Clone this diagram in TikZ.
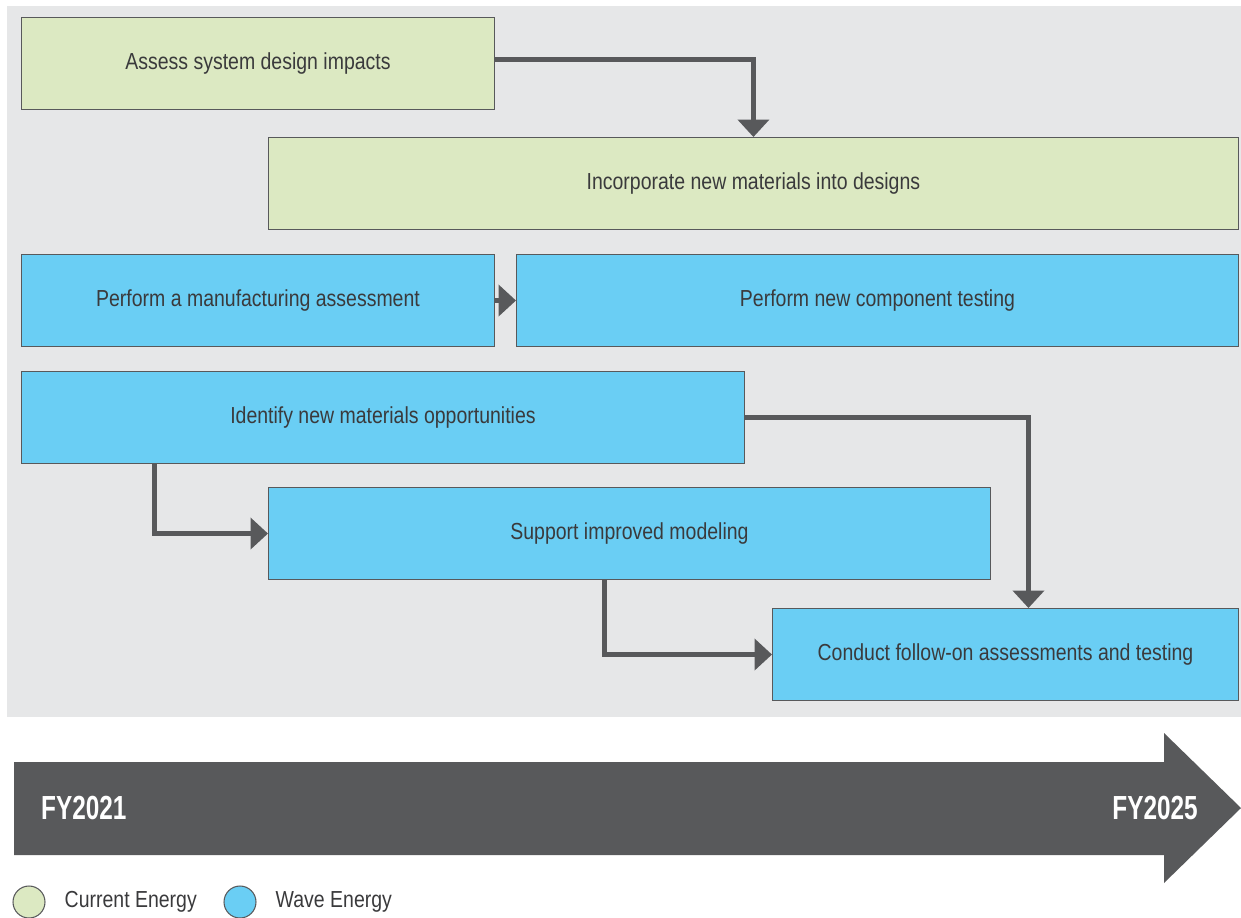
\documentclass[tikz,border=0pt]{standalone}
\usepackage{fontspec}
\setmainfont{Liberation Sans}[FakeStretch=0.84]
\newfontfamily\yearfont{Liberation Sans}[FakeStretch=0.73]
\usepackage{tikz}
\usetikzlibrary{arrows.meta, positioning}
\usepackage{xcolor}
\definecolor{bggray}{HTML}{E6E7E8}
\definecolor{currentgreen}{HTML}{DCE9C2}
\definecolor{waveblue}{HTML}{6ACEF4}
\definecolor{darkgray}{HTML}{58595B}
\definecolor{textgray}{HTML}{3A3A3C}

\tikzset{
  taskbox/.style={draw=darkgray, line width=0.6pt, anchor=north west,
    minimum height=1.84cm, inner sep=0pt, text=textgray,
    font=\fontsize{13.2}{15}\selectfont},
  current/.style={taskbox, fill=currentgreen},
  wave/.style={taskbox, fill=waveblue},
  flow/.style={darkgray, line width=0.1cm,
    -{Triangle[length=0.35cm, width=0.62cm]}},
  yearlabel/.style={text=white, font=\yearfont\bfseries\fontsize{19}{22}\selectfont},
  legenddot/.style={circle, draw=darkgray, line width=0.6pt,
    minimum size=0.64cm, inner sep=0pt},
  legendtext/.style={text=textgray, anchor=west,
    font=\fontsize{13.2}{15}\selectfont}
}

\begin{document}
\begin{tikzpicture}[x=0.02cm, y=-0.02cm]
    \useasboundingbox (0, 0) rectangle (1241, 917);
    % Grey panel
    \fill [bggray] (7, 6) rectangle (1241, 717);
    % Current energy tasks
    \node [current, minimum width=9.46cm] (assess) at (21, 17) {Assess system design impacts};
    \node [current, minimum width=19.40cm] (incorp) at (268, 137) {Incorporate new materials into designs};
    % Wave energy tasks
    \node [wave, minimum width=9.46cm] (manuf) at (21, 254) {Perform a manufacturing assessment};
    \node [wave, minimum width=14.44cm] (comp) at (516, 254) {Perform new component testing};
    \node [wave, minimum width=14.46cm] (ident) at (21, 371) {Identify new materials opportunities};
    \node [wave, minimum width=14.44cm] (model) at (268, 487) {Support improved modeling};
    \node [wave, minimum width=9.32cm] (follow) at (772, 608) {Conduct follow-on assessments and testing};
    % Links
    \draw [flow] ([yshift=0.08cm]assess.east) -| (incorp.north);
    \draw [flow] (manuf.east) -- (comp.west);
    \draw [flow] (ident.east) -| ([xshift=0.46cm]follow.north);
    \draw [flow] ([xshift=2.68cm]ident.south west) |- (model.west);
    \draw [flow] ([xshift=6.74cm]model.south west) |- (follow.west);
    % Time line
    \fill [darkgray] (14, 762) -- (1164, 762) -- (1164, 733) -- (1241, 808)
        -- (1164, 883) -- (1164, 855) -- (14, 855) -- cycle;
    \node [yearlabel, anchor=west] (start) at (35, 808) {FY2021};
    \node [yearlabel, anchor=east] (end) at (1204, 808) {FY2025};
    % Legend
    \node [legenddot, fill=currentgreen] (keycurrent) at (29, 902) {};
    \node [legendtext, right=0.26cm of keycurrent] (keycurrenttext) {Current Energy};
    \node [legenddot, fill=waveblue] (keywave) at (240, 902) {};
    \node [legendtext, right=0.26cm of keywave] (keywavetext) {Wave Energy};
\end{tikzpicture}
\end{document}
